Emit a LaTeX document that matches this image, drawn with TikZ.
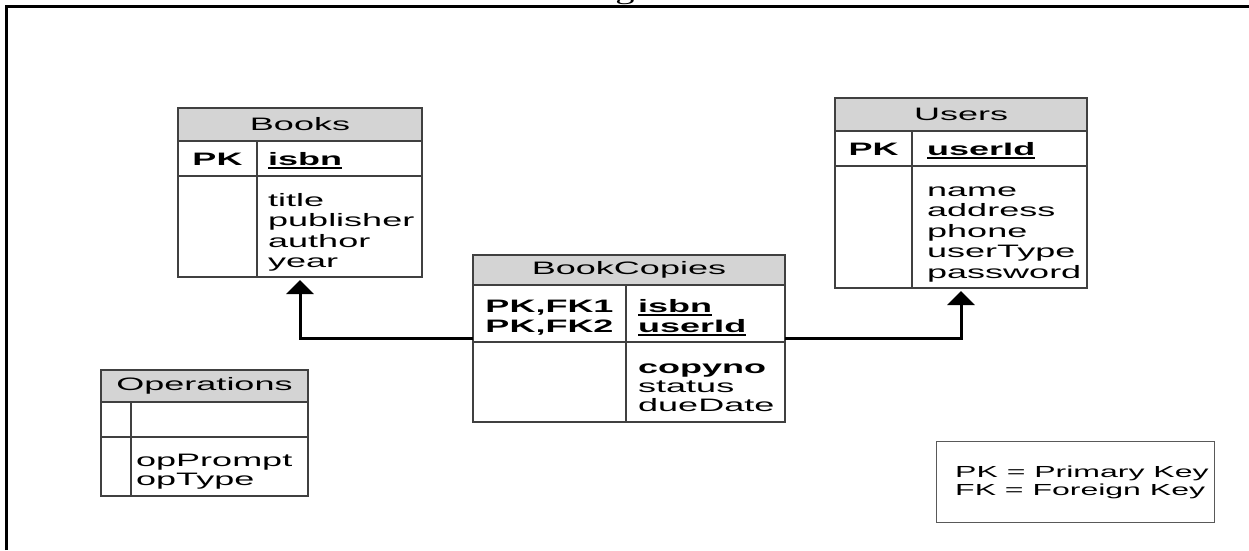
\documentclass[tikz,border=0pt]{standalone}
\usepackage{fontspec}
\setmainfont{Liberation Sans}[FakeStretch=2.0]
\newfontfamily\serf{Liberation Serif}[FakeStretch=1.6]
\usetikzlibrary{arrows.meta}
\definecolor{hdr}{HTML}{D4D4D4}
\definecolor{edge}{HTML}{404040}
\newcommand\ulkey[1]{\setbox0\hbox{#1}\rlap{\raisebox{-3.5pt}{\rule{\wd0}{1.8pt}}}\box0}
\begin{document}
\begin{tikzpicture}[x=1pt,y=-1pt,
  box/.style={draw=edge, line width=1.3pt, anchor=north west, inner sep=0pt, outer sep=0pt},
  sep/.style={draw=edge, line width=1.3pt},
  txt/.style={inner sep=0pt, font=\fontsize{18}{20.5}\selectfont},
  ttl/.style={txt, anchor=center},
  attr/.style={txt, anchor=base west},
  key/.style={inner sep=0pt, anchor=base, font=\fontsize{18}{20.5}\selectfont\bfseries},
  keyattr/.style={inner sep=0pt, anchor=base west, font=\fontsize{18}{20.5}\selectfont\bfseries},
  legtxt/.style={inner sep=0pt, anchor=base west, font=\fontsize{16}{18}\selectfont},
  conn/.style={line width=3pt, -{Triangle[width=27pt,length=14pt]}, shorten >=3pt},
]
\useasboundingbox (0,0) rectangle (1249,550);
% outer frame and clipped caption letter
\draw[line width=2.5pt] (6.5,550) -- (6.5,6.5) -- (1249,6.5);
\node[inner sep=0pt, anchor=base, font=\serf\fontsize{24}{24}\selectfont] (gpart) at (625,-0.5) {g};

% ---------- Books ----------
\fill[hdr] (178,108) rectangle (422,141);
\node[box, minimum width=244pt, minimum height=169pt] (books) at (178,108) {};
\draw[sep] (178,141) -- (422,141);
\draw[sep] (178,176) -- (422,176);
\draw[sep] (257,141) -- (257,277);
\node[ttl] (books-t) at (300,124.5) {Books};
\node[key] (books-k) at (217.5,165) {PK};
\node[keyattr] (books-pk) at (268,165) {\ulkey{isbn}};
\foreach \t [count=\i from 0] in {title,publisher,author,year}
  \node[attr] (books-a\i) at (268,{206+20.5*\i}) {\t};

% ---------- Users ----------
\fill[hdr] (835,98) rectangle (1087,131);
\node[box, minimum width=252pt, minimum height=190pt] (users) at (835,98) {};
\draw[sep] (835,131) -- (1087,131);
\draw[sep] (835,166) -- (1087,166);
\draw[sep] (912,131) -- (912,288);
\node[ttl] (users-t) at (961,114.5) {Users};
\node[key] (users-k) at (873.5,155) {PK};
\node[keyattr] (users-pk) at (927,155) {\ulkey{userId}};
\foreach \t [count=\i from 0] in {name,address,phone,userType,password}
  \node[attr] (users-a\i) at (927,{196+20.5*\i}) {\t};

% ---------- BookCopies ----------
\fill[hdr] (473,255) rectangle (785,285);
\node[box, minimum width=312pt, minimum height=167pt] (bcopies) at (473,255) {};
\draw[sep] (473,285) -- (785,285);
\draw[sep] (473,342) -- (785,342);
\draw[sep] (626,285) -- (626,422);
\node[ttl] (bcopies-t) at (629,270) {BookCopies};
\node[key] (bcopies-k1) at (549.5,312) {PK,FK1};
\node[key] (bcopies-k2) at (549.5,332) {PK,FK2};
\node[keyattr] (bcopies-pk1) at (638,312) {\ulkey{isbn}};
\node[keyattr] (bcopies-pk2) at (638,332) {\ulkey{userId}};
\node[keyattr] (bcopies-a0) at (638,373) {copyno};
\node[attr] (bcopies-a1) at (638,392) {status};
\node[attr] (bcopies-a2) at (638,411) {dueDate};

% ---------- Operations ----------
\fill[hdr] (101,370) rectangle (308,402);
\node[box, minimum width=207pt, minimum height=126pt] (ops) at (101,370) {};
\draw[sep] (101,402) -- (308,402);
\draw[sep] (101,437) -- (308,437);
\draw[sep] (131,402) -- (131,496);
\node[ttl] (ops-t) at (204.5,386) {Operations};
\node[attr] (ops-a0) at (136,466) {opPrompt};
\node[attr] (ops-a1) at (136,485) {opType};

% ---------- Legend ----------
\node[box, draw=black!65, line width=1pt, minimum width=278pt, minimum height=81pt] (legend) at (936,441) {};
\node[legtxt] (leg1) at (955,477) {PK = Primary Key};
\node[legtxt] (leg2) at (955,495) {FK = Foreign Key};

% ---------- connectors ----------
\draw[conn] (bcopies.west) -| (books.south);
\draw[conn] (bcopies.east) -| (users.south);
\end{tikzpicture}
\end{document}
